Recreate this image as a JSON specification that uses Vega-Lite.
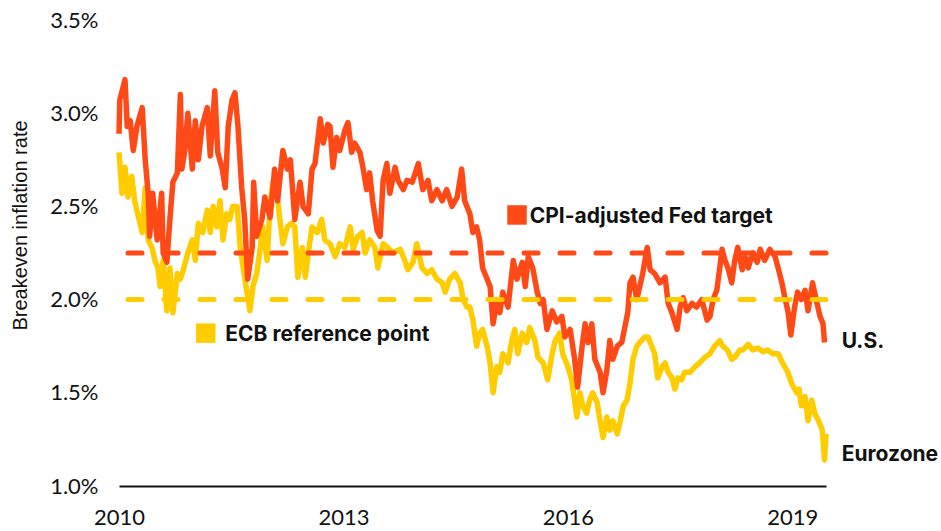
{
  "$schema": "https://vega.github.io/schema/vega-lite/v6.json",
  "autosize": {"type": "none"},
  "padding": {"left": 119, "top": 20, "right": 115, "bottom": 45},
  "width": 707,
  "height": 466,
  "background": "white",
  "config": {"view": {"stroke": null}, "font": "Inter"},
  "datasets": {
    "us": [
      {"t":2010.00,"v":2.89},{"t":2010.01,"v":3.07},{"t":2010.08,"v":3.18},{"t":2010.11,"v":2.93},{"t":2010.15,"v":2.96},{"t":2010.19,"v":2.80},{"t":2010.24,"v":2.93},{"t":2010.31,"v":3.03},{"t":2010.35,"v":2.75},{"t":2010.39,"v":2.57},{"t":2010.41,"v":2.34},{"t":2010.45,"v":2.57},{"t":2010.51,"v":2.32},{"t":2010.57,"v":2.57},{"t":2010.59,"v":2.25},{"t":2010.64,"v":2.20},{"t":2010.68,"v":2.43},{"t":2010.72,"v":2.63},{"t":2010.78,"v":2.68},{"t":2010.82,"v":3.10},{"t":2010.84,"v":2.70},{"t":2010.88,"v":2.80},{"t":2010.92,"v":3.00},{"t":2010.98,"v":2.70},{"t":2011.02,"v":2.96},{"t":2011.06,"v":2.75},{"t":2011.11,"v":2.93},{"t":2011.18,"v":3.03},{"t":2011.22,"v":2.77},{"t":2011.28,"v":3.12},{"t":2011.32,"v":2.79},{"t":2011.38,"v":2.70},{"t":2011.42,"v":2.60},{"t":2011.46,"v":2.93},{"t":2011.51,"v":3.07},{"t":2011.55,"v":3.11},{"t":2011.59,"v":2.93},{"t":2011.64,"v":2.60},{"t":2011.68,"v":2.43},{"t":2011.72,"v":2.11},{"t":2011.78,"v":2.28},{"t":2011.80,"v":2.63},{"t":2011.84,"v":2.34},{"t":2011.91,"v":2.43},{"t":2011.95,"v":2.55},{"t":2012.02,"v":2.44},{"t":2012.08,"v":2.70},{"t":2012.12,"v":2.53},{"t":2012.19,"v":2.80},{"t":2012.25,"v":2.70},{"t":2012.29,"v":2.75},{"t":2012.35,"v":2.43},{"t":2012.42,"v":2.63},{"t":2012.46,"v":2.50},{"t":2012.53,"v":2.46},{"t":2012.58,"v":2.70},{"t":2012.62,"v":2.73},{"t":2012.69,"v":2.97},{"t":2012.73,"v":2.84},{"t":2012.79,"v":2.94},{"t":2012.82,"v":2.93},{"t":2012.86,"v":2.71},{"t":2012.91,"v":2.87},{"t":2012.95,"v":2.80},{"t":2013.02,"v":2.91},{"t":2013.06,"v":2.95},{"t":2013.11,"v":2.79},{"t":2013.15,"v":2.84},{"t":2013.22,"v":2.79},{"t":2013.26,"v":2.71},{"t":2013.31,"v":2.59},{"t":2013.35,"v":2.68},{"t":2013.39,"v":2.53},{"t":2013.45,"v":2.37},{"t":2013.49,"v":2.34},{"t":2013.53,"v":2.64},{"t":2013.58,"v":2.73},{"t":2013.62,"v":2.57},{"t":2013.69,"v":2.71},{"t":2013.73,"v":2.64},{"t":2013.80,"v":2.59},{"t":2013.85,"v":2.64},{"t":2013.92,"v":2.63},{"t":2014.00,"v":2.73},{"t":2014.06,"v":2.59},{"t":2014.13,"v":2.64},{"t":2014.18,"v":2.53},{"t":2014.25,"v":2.59},{"t":2014.32,"v":2.53},{"t":2014.38,"v":2.59},{"t":2014.45,"v":2.50},{"t":2014.52,"v":2.55},{"t":2014.58,"v":2.70},{"t":2014.62,"v":2.53},{"t":2014.69,"v":2.46},{"t":2014.73,"v":2.36},{"t":2014.78,"v":2.39},{"t":2014.82,"v":2.32},{"t":2014.86,"v":2.17},{"t":2014.92,"v":2.11},{"t":2014.96,"v":2.07},{"t":2015.00,"v":1.87},{"t":2015.05,"v":2.00},{"t":2015.09,"v":1.93},{"t":2015.13,"v":2.04},{"t":2015.20,"v":1.96},{"t":2015.27,"v":2.21},{"t":2015.32,"v":2.11},{"t":2015.39,"v":2.20},{"t":2015.43,"v":2.07},{"t":2015.47,"v":2.23},{"t":2015.53,"v":2.17},{"t":2015.59,"v":2.04},{"t":2015.63,"v":1.98},{"t":2015.67,"v":2.00},{"t":2015.72,"v":1.84},{"t":2015.79,"v":1.94},{"t":2015.85,"v":1.88},{"t":2015.92,"v":1.91},{"t":2015.96,"v":1.80},{"t":2016.03,"v":1.84},{"t":2016.09,"v":1.68},{"t":2016.13,"v":1.53},{"t":2016.19,"v":1.75},{"t":2016.23,"v":1.87},{"t":2016.27,"v":1.77},{"t":2016.32,"v":1.87},{"t":2016.36,"v":1.68},{"t":2016.43,"v":1.61},{"t":2016.47,"v":1.50},{"t":2016.52,"v":1.62},{"t":2016.56,"v":1.78},{"t":2016.60,"v":1.68},{"t":2016.66,"v":1.75},{"t":2016.72,"v":1.77},{"t":2016.76,"v":1.85},{"t":2016.80,"v":1.93},{"t":2016.83,"v":2.09},{"t":2016.87,"v":2.12},{"t":2016.92,"v":2.00},{"t":2016.96,"v":2.07},{"t":2017.00,"v":2.14},{"t":2017.06,"v":2.28},{"t":2017.10,"v":2.16},{"t":2017.16,"v":2.14},{"t":2017.23,"v":2.09},{"t":2017.30,"v":2.12},{"t":2017.34,"v":1.98},{"t":2017.39,"v":1.93},{"t":2017.46,"v":1.84},{"t":2017.50,"v":1.96},{"t":2017.54,"v":2.01},{"t":2017.59,"v":1.94},{"t":2017.66,"v":1.98},{"t":2017.72,"v":1.96},{"t":2017.79,"v":2.00},{"t":2017.86,"v":1.89},{"t":2017.90,"v":1.91},{"t":2017.94,"v":2.00},{"t":2017.99,"v":2.05},{"t":2018.03,"v":2.17},{"t":2018.06,"v":2.27},{"t":2018.10,"v":2.21},{"t":2018.14,"v":2.17},{"t":2018.19,"v":2.09},{"t":2018.23,"v":2.21},{"t":2018.27,"v":2.28},{"t":2018.33,"v":2.16},{"t":2018.37,"v":2.23},{"t":2018.41,"v":2.17},{"t":2018.47,"v":2.25},{"t":2018.53,"v":2.20},{"t":2018.57,"v":2.27},{"t":2018.63,"v":2.21},{"t":2018.70,"v":2.27},{"t":2018.77,"v":2.23},{"t":2018.81,"v":2.17},{"t":2018.86,"v":2.09},{"t":2018.90,"v":2.01},{"t":2018.94,"v":1.94},{"t":2018.98,"v":1.81},{"t":2019.03,"v":1.96},{"t":2019.07,"v":2.04},{"t":2019.12,"v":2.00},{"t":2019.17,"v":2.05},{"t":2019.21,"v":1.94},{"t":2019.27,"v":2.09},{"t":2019.33,"v":1.98},{"t":2019.37,"v":1.91},{"t":2019.41,"v":1.87},{"t":2019.43,"v":1.77}
    ],
    "ez": [
      {"t":2010.00,"v":2.79},{"t":2010.04,"v":2.57},{"t":2010.08,"v":2.71},{"t":2010.12,"v":2.55},{"t":2010.17,"v":2.66},{"t":2010.21,"v":2.53},{"t":2010.25,"v":2.46},{"t":2010.31,"v":2.36},{"t":2010.35,"v":2.60},{"t":2010.39,"v":2.32},{"t":2010.44,"v":2.28},{"t":2010.48,"v":2.21},{"t":2010.52,"v":2.17},{"t":2010.55,"v":2.07},{"t":2010.59,"v":2.21},{"t":2010.64,"v":1.94},{"t":2010.68,"v":2.17},{"t":2010.72,"v":1.93},{"t":2010.78,"v":2.14},{"t":2010.82,"v":2.11},{"t":2010.86,"v":2.16},{"t":2010.92,"v":2.25},{"t":2010.98,"v":2.32},{"t":2011.02,"v":2.21},{"t":2011.06,"v":2.41},{"t":2011.12,"v":2.36},{"t":2011.18,"v":2.48},{"t":2011.22,"v":2.36},{"t":2011.26,"v":2.50},{"t":2011.31,"v":2.39},{"t":2011.35,"v":2.53},{"t":2011.39,"v":2.32},{"t":2011.44,"v":2.46},{"t":2011.48,"v":2.43},{"t":2011.52,"v":2.50},{"t":2011.58,"v":2.50},{"t":2011.62,"v":2.28},{"t":2011.66,"v":2.17},{"t":2011.71,"v":2.04},{"t":2011.75,"v":1.94},{"t":2011.79,"v":2.07},{"t":2011.84,"v":2.14},{"t":2011.88,"v":2.25},{"t":2011.92,"v":2.39},{"t":2011.98,"v":2.21},{"t":2012.02,"v":2.52},{"t":2012.06,"v":2.63},{"t":2012.11,"v":2.57},{"t":2012.15,"v":2.43},{"t":2012.19,"v":2.30},{"t":2012.25,"v":2.39},{"t":2012.31,"v":2.41},{"t":2012.35,"v":2.39},{"t":2012.39,"v":2.12},{"t":2012.45,"v":2.28},{"t":2012.49,"v":2.12},{"t":2012.53,"v":2.25},{"t":2012.58,"v":2.39},{"t":2012.65,"v":2.36},{"t":2012.71,"v":2.43},{"t":2012.75,"v":2.32},{"t":2012.82,"v":2.30},{"t":2012.89,"v":2.23},{"t":2012.95,"v":2.30},{"t":2013.02,"v":2.28},{"t":2013.09,"v":2.39},{"t":2013.13,"v":2.27},{"t":2013.19,"v":2.34},{"t":2013.25,"v":2.36},{"t":2013.29,"v":2.25},{"t":2013.35,"v":2.32},{"t":2013.42,"v":2.28},{"t":2013.46,"v":2.17},{"t":2013.53,"v":2.30},{"t":2013.59,"v":2.28},{"t":2013.66,"v":2.25},{"t":2013.76,"v":2.27},{"t":2013.82,"v":2.21},{"t":2013.86,"v":2.16},{"t":2013.93,"v":2.20},{"t":2013.98,"v":2.30},{"t":2014.05,"v":2.17},{"t":2014.12,"v":2.14},{"t":2014.18,"v":2.16},{"t":2014.25,"v":2.11},{"t":2014.32,"v":2.09},{"t":2014.36,"v":2.04},{"t":2014.42,"v":2.11},{"t":2014.49,"v":2.14},{"t":2014.56,"v":2.09},{"t":2014.60,"v":2.00},{"t":2014.65,"v":1.96},{"t":2014.69,"v":1.96},{"t":2014.73,"v":1.89},{"t":2014.78,"v":1.75},{"t":2014.82,"v":1.82},{"t":2014.86,"v":1.84},{"t":2014.92,"v":1.75},{"t":2014.96,"v":1.66},{"t":2015.00,"v":1.50},{"t":2015.05,"v":1.64},{"t":2015.09,"v":1.61},{"t":2015.13,"v":1.71},{"t":2015.20,"v":1.66},{"t":2015.25,"v":1.78},{"t":2015.29,"v":1.84},{"t":2015.33,"v":1.71},{"t":2015.39,"v":1.82},{"t":2015.45,"v":1.77},{"t":2015.49,"v":1.85},{"t":2015.56,"v":1.78},{"t":2015.60,"v":1.69},{"t":2015.67,"v":1.66},{"t":2015.73,"v":1.57},{"t":2015.79,"v":1.71},{"t":2015.83,"v":1.78},{"t":2015.89,"v":1.82},{"t":2015.93,"v":1.71},{"t":2016.00,"v":1.64},{"t":2016.05,"v":1.57},{"t":2016.09,"v":1.46},{"t":2016.12,"v":1.37},{"t":2016.16,"v":1.50},{"t":2016.20,"v":1.43},{"t":2016.25,"v":1.39},{"t":2016.29,"v":1.46},{"t":2016.33,"v":1.50},{"t":2016.39,"v":1.45},{"t":2016.43,"v":1.35},{"t":2016.47,"v":1.26},{"t":2016.52,"v":1.37},{"t":2016.56,"v":1.30},{"t":2016.60,"v":1.35},{"t":2016.66,"v":1.28},{"t":2016.70,"v":1.35},{"t":2016.74,"v":1.43},{"t":2016.79,"v":1.46},{"t":2016.83,"v":1.55},{"t":2016.87,"v":1.68},{"t":2016.92,"v":1.75},{"t":2016.96,"v":1.77},{"t":2017.03,"v":1.80},{"t":2017.07,"v":1.80},{"t":2017.12,"v":1.75},{"t":2017.16,"v":1.71},{"t":2017.20,"v":1.58},{"t":2017.26,"v":1.64},{"t":2017.30,"v":1.66},{"t":2017.34,"v":1.61},{"t":2017.39,"v":1.58},{"t":2017.43,"v":1.52},{"t":2017.47,"v":1.58},{"t":2017.52,"v":1.57},{"t":2017.56,"v":1.61},{"t":2017.63,"v":1.61},{"t":2017.70,"v":1.64},{"t":2017.76,"v":1.66},{"t":2017.83,"v":1.69},{"t":2017.90,"v":1.71},{"t":2017.96,"v":1.75},{"t":2018.03,"v":1.78},{"t":2018.07,"v":1.75},{"t":2018.13,"v":1.73},{"t":2018.19,"v":1.68},{"t":2018.23,"v":1.69},{"t":2018.30,"v":1.73},{"t":2018.34,"v":1.73},{"t":2018.41,"v":1.76},{"t":2018.47,"v":1.73},{"t":2018.54,"v":1.74},{"t":2018.61,"v":1.72},{"t":2018.67,"v":1.73},{"t":2018.74,"v":1.71},{"t":2018.81,"v":1.71},{"t":2018.87,"v":1.66},{"t":2018.94,"v":1.61},{"t":2018.99,"v":1.55},{"t":2019.06,"v":1.50},{"t":2019.09,"v":1.52},{"t":2019.12,"v":1.43},{"t":2019.17,"v":1.48},{"t":2019.21,"v":1.35},{"t":2019.26,"v":1.46},{"t":2019.30,"v":1.39},{"t":2019.35,"v":1.35},{"t":2019.40,"v":1.30},{"t":2019.43,"v":1.14},{"t":2019.45,"v":1.28}
    ],
    "labels": [
      {"t":2015.49,"v":2.443,"label":"CPI-adjusted Fed target"},
      {"t":2011.42,"v":1.81,"label":"ECB reference point"},
      {"t":2019.66,"v":1.77,"label":"U.S."},
      {"t":2019.66,"v":1.166,"label":"Eurozone"}
    ]
  },
  "encoding": {
    "x": {
      "field": "t", "type": "quantitative",
      "scale": {"domain": [2010, 2019.45], "nice": false, "zero": false},
      "axis": {"values": [2010, 2013, 2016, 2019], "format": "d", "title": null, "grid": false, "ticks": false,
               "domain": true, "domainColor": "#111111", "domainWidth": 2, "labelPadding": 21,
               "labelFontSize": 22, "labelColor": "#111111", "labelFont": "Lato", "labelFlush": false}
    },
    "y": {
      "field": "v", "type": "quantitative",
      "scale": {"domain": [1.0, 3.5], "nice": false, "zero": false},
      "axis": {"values": [1.0, 1.5, 2.0, 2.5, 3.0, 3.5], "labelExpr": "format(datum.value, '.1f') + '%'",
               "title": "Breakeven inflation rate", "titleFontSize": 20, "titleFontWeight": "normal", "titleColor": "#111111",
               "titleFont": "Liberation Sans", "titleX": -89, "titleY": 205,
               "grid": false, "ticks": false, "domain": false, "labelPadding": 21,
               "labelFontSize": 22, "labelColor": "#111111", "labelFont": "Lato"}
    }
  },
  "layer": [
    {"data": {"name": "ez"}, "mark": {"type": "line", "color": "#FFCC00", "strokeWidth": 5.5, "strokeJoin": "round"}},
    {"data": {"name": "us"}, "mark": {"type": "line", "color": "#FF4A17", "strokeWidth": 5.5, "strokeJoin": "round"}},
    {"data": {"values": [{"v": 2.0}]}, "mark": {"type": "rule", "color": "#FFCC00", "strokeWidth": 5, "strokeDash": [14, 22], "strokeCap": "round"}, "encoding": {"x": null}},
    {"data": {"values": [{"v": 2.25}]}, "mark": {"type": "rule", "color": "#FF4A17", "strokeWidth": 5, "strokeDash": [14, 22], "strokeCap": "round"}, "encoding": {"x": null}},
    {"data": {"values": [{"t": 2015.32, "v": 2.454}]}, "mark": {"type": "point", "shape": "square", "filled": true, "opacity": 1, "size": 380, "color": "#FF4A17"}},
    {"data": {"values": [{"t": 2011.16, "v": 1.82}]}, "mark": {"type": "point", "shape": "square", "filled": true, "opacity": 1, "size": 380, "color": "#FFCC00"}},
    {"data": {"name": "labels"}, "mark": {"type": "text", "align": "left", "baseline": "middle", "fontSize": 21, "fontWeight": "bold", "font": "Inter", "letterSpacing": 0.4, "color": "#111111"},
     "encoding": {"text": {"field": "label"}}}
  ]
}
